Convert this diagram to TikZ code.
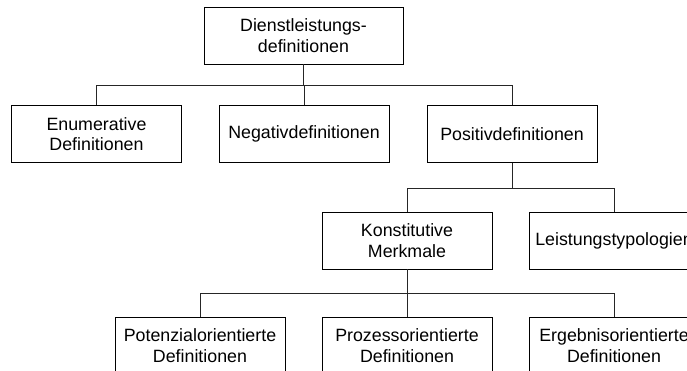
\documentclass[tikz,border=0pt]{standalone}
\usepackage{fontspec}
\setmainfont{Liberation Sans}
\begin{document}
\begin{tikzpicture}[x=1pt,y=-1pt,
  box/.style={draw=black,line width=0.9pt,minimum height=57pt,minimum width=170pt,inner sep=0pt,align=center,
    font=\fontsize{17.8pt}{20.5pt}\selectfont},
  conn/.style={draw=black!85,line width=0.9pt}]
\clip (0,0) rectangle (687,371);
\fill[white] (0,0) rectangle (687,371);
\node[box,minimum width=199pt] (top) at (303.5,35.5) {Dienstleistungs-\\definitionen};
\node[box] (enum) at (96.5,134) {Enumerative\\Definitionen};
\node[box] (neg) at (304,134) {Negativdefinitionen};
\node[box] (pos) at (512,134) {Positivdefinitionen};
\node[box] (konst) at (407,240.5) {Konstitutive\\Merkmale};
\node[box] (leist) at (614,240.5) {Leistungstypologien};
\node[box] (pot) at (200,345.5) {Potenzialorientierte\\Definitionen};
\node[box] (proz) at (407,345.5) {Prozessorientierte\\Definitionen};
\node[box] (erg) at (614,345.5) {Ergebnisorientierte\\Definitionen};
\coordinate (bus1) at (0,85);
\coordinate (bus2) at (0,188);
\coordinate (bus3) at (0,293);
\draw[conn] (top.south) -- (top.south |- bus1);
\draw[conn] (enum.north) |- (pos.north |- bus1) -- (pos.north);
\draw[conn] (neg.north) -- (neg.north |- bus1);
\draw[conn] (pos.south) -- (pos.south |- bus2);
\draw[conn] (konst.north) |- (leist.north |- bus2) -- (leist.north);
\draw[conn] (konst.south) -- (konst.south |- bus3);
\draw[conn] (pot.north) |- (erg.north |- bus3) -- (erg.north);
\draw[conn] (proz.north) -- (proz.north |- bus3);
\end{tikzpicture}
\end{document}
